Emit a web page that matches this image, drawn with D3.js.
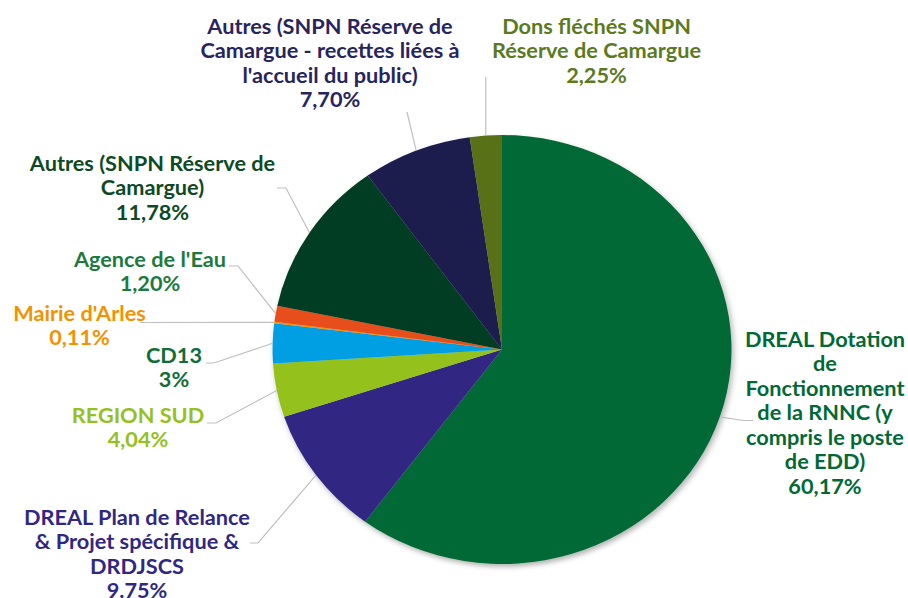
<!DOCTYPE html>
<html>
<head>
<meta charset="utf-8">
<script src="https://cdn.jsdelivr.net/npm/d3@7"></script>
<style>
  body { margin: 0; background: #fff; }
  text { font-family: Lato, "Open Sans", sans-serif; font-weight: bold; }
</style>
</head>
<body>
<script>
// ---------- DATA ----------
var categories = [
  "DREAL Dotation de Fonctionnement de la RNNC (y compris le poste de EDD)",
  "DREAL Plan de Relance & Projet spécifique & DRDJSCS",
  "REGION SUD",
  "CD13",
  "Mairie d'Arles",
  "Agence de l'Eau",
  "Autres (SNPN Réserve de Camargue)",
  "Autres (SNPN Réserve de Camargue - recettes liées à l'accueil du public)",
  "Dons fléchés SNPN Réserve de Camargue"
];
var values = [60.17, 9.75, 4.04, 3, 0.11, 1.20, 11.78, 7.70, 2.25];
var valueLabels = ["60,17%", "9.75%", "4,04%", "3%", "0,11%", "1,20%", "11,78%", "7,70%", "2,25%"];

// label text as wrapped in the picture
var labelLines = [
  ["DREAL Dotation", "de", "Fonctionnement", "de la RNNC (y", "compris le poste", "de EDD)"],
  ["DREAL Plan de Relance", "& Projet spécifique &", "DRDJSCS"],
  ["REGION SUD"],
  ["CD13"],
  ["Mairie d'Arles"],
  ["Agence de l'Eau"],
  ["Autres (SNPN Réserve de", "Camargue)"],
  ["Autres (SNPN Réserve de", "Camargue - recettes liées à", "l'accueil du public)"],
  ["Dons fléchés SNPN", "Réserve de Camargue"]
];

// ---------- STYLE ----------
var sliceColors = ["#006935", "#312783", "#95c11f", "#009fe3", "#f39200", "#e84e1b", "#003d21", "#1e1a4d", "#586f18"];
var textColors  = ["#006935", "#312783", "#95c11f", "#0f6e38", "#f39200", "#1d7a3c", "#0c4a25", "#28245e", "#5b7a1e"];

// ---------- LAYOUT ----------
var w = 908, h = 598;
var cx = 502, cy = 349.5;
var rx = 229.5, ry = 214.5;
var stretch = rx / ry;   // whole picture is a bit wider than tall
var lineH = 24.5;

// label block: center x, first baseline y; leader: elbow points (outer end first)
var labelPos = [
  { x: 825, y: 347, leader: [[753, 420.5], [743, 420.5]] },
  { x: 137, y: 525, leader: [[250, 543], [258, 543]] },
  { x: 138, y: 423, leader: [[207, 423], [216, 423]] },
  { x: 174, y: 363, leader: [[206, 363], [214, 363]] },
  { x: 79.5, y: 320.5, leader: [[140, 322.5]] },
  { x: 150, y: 267, leader: [[229, 266], [238, 266]] },
  { x: 152.5, y: 171, leader: [[277, 188], [286, 188]] },
  { x: 330, y: 34, leader: [[407, 112]] },
  { x: 596.5, y: 34, leader: [[485.8, 77]] }
];

var svg = d3.select("body").append("svg")
  .attr("width", w)
  .attr("height", h);

var defs = svg.append("defs");
var shadow = defs.append("filter")
  .attr("id", "shadow")
  .attr("x", "-10%").attr("y", "-10%")
  .attr("width", "125%").attr("height", "125%");
shadow.append("feDropShadow")
  .attr("dx", 2).attr("dy", 3)
  .attr("stdDeviation", 3)
  .attr("flood-color", "#000")
  .attr("flood-opacity", 0.3);

var pie = d3.pie().sort(null).value(d => d);
var arcs = pie(values);

var arc = d3.arc().innerRadius(0).outerRadius(rx);

// pie is slightly squashed vertically in the picture
var gPie = svg.append("g")
  .attr("transform", "translate(" + cx + "," + cy + ") scale(1," + (ry / rx) + ")")
  .attr("filter", "url(#shadow)");

gPie.selectAll("path")
  .data(arcs)
  .enter()
  .append("path")
  .attr("d", arc)
  .attr("fill", (d, i) => sliceColors[i]);

// edge point of slice middle
function edgePoint(d) {
  var a = (d.startAngle + d.endAngle) / 2;
  return [cx + rx * Math.sin(a), cy - ry * Math.cos(a)];
}

// ---------- LEADER LINES ----------
var gLines = svg.append("g");
arcs.forEach(function (d, i) {
  var pts = labelPos[i].leader.concat([edgePoint(d)]);
  gLines.append("path")
    .attr("d", d3.line()(pts))
    .attr("fill", "none")
    .attr("stroke", "#bfbfbf")
    .attr("stroke-width", 1.2);
});

// ---------- LABELS ----------
var gLabels = svg.append("g");
arcs.forEach(function (d, i) {
  var lines = labelLines[i].concat([valueLabels[i]]);
  var t = gLabels.append("text")
    .attr("transform", "translate(" + labelPos[i].x + "," + labelPos[i].y + ") scale(" + stretch + ",1)")
    .attr("text-anchor", "middle")
    .attr("font-size", "20.3px")
    .attr("fill", textColors[i]);
  lines.forEach(function (s, k) {
    t.append("tspan")
      .attr("x", 0)
      .attr("y", k * lineH)
      .text(s);
  });
});
</script>
</body>
</html>
